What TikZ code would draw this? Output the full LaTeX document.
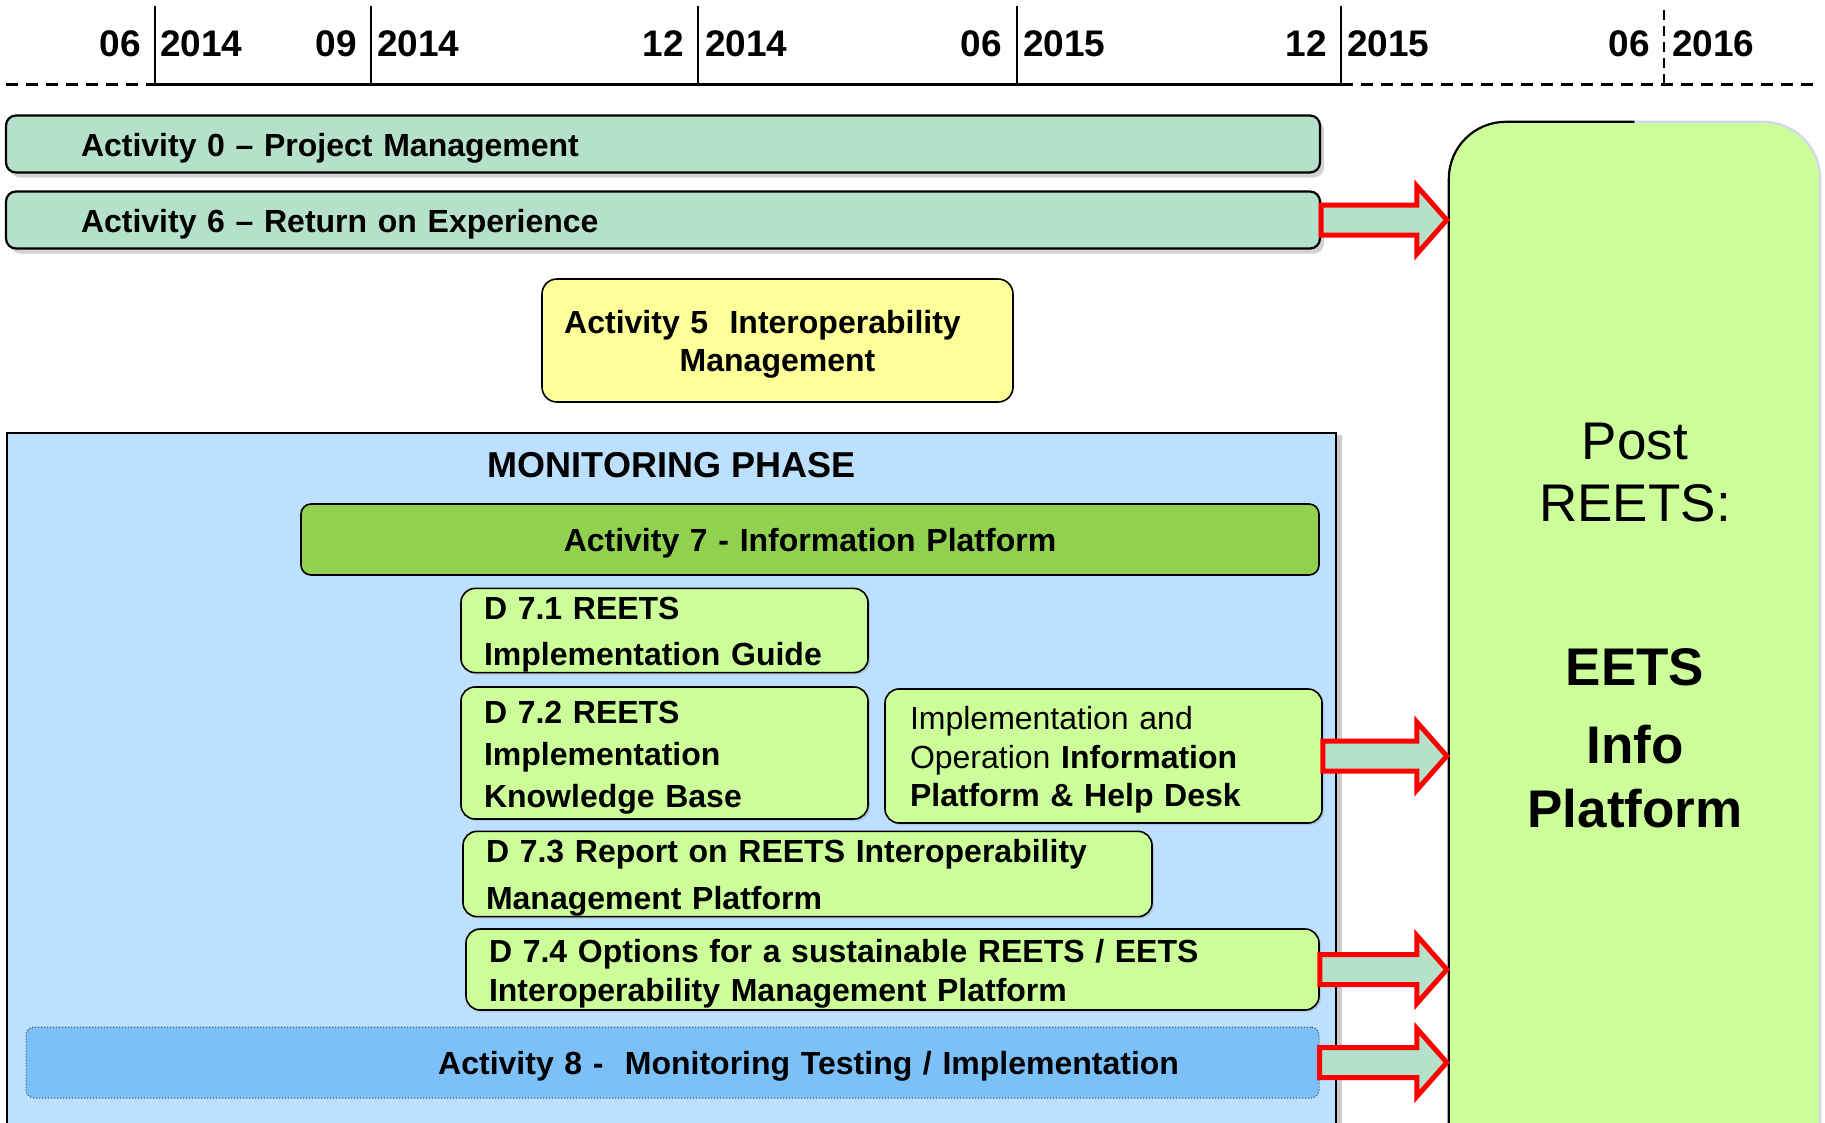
\documentclass[tikz,border=0pt]{standalone}
\usepackage{fontspec}
\setmainfont{Liberation Sans}
\usetikzlibrary{calc,positioning,shadows}
\definecolor{mint}{RGB}{181,224,202}
\definecolor{lemon}{RGB}{255,255,153}
\definecolor{skyfill}{RGB}{189,224,254}
\definecolor{leaf}{RGB}{146,208,80}
\definecolor{lime}{RGB}{204,255,153}
\definecolor{deepsky}{RGB}{124,192,250}
\definecolor{lav}{RGB}{210,214,240}
\def\fnt#1#2{\fontsize{#1}{#2}\selectfont}
\def\blockarrow#1#2{\draw[flow] let \p1=(#1), \p2=(#2) in
  (\x1,\y1+15pt) -- (\x2-32pt,\y1+15pt) -- (\x2-32pt,\y1+34pt) -- (\x2-2pt,\y1)
  -- (\x2-32pt,\y1-34pt) -- (\x2-32pt,\y1-15pt) -- (\x1,\y1-15pt) -- cycle;}

\begin{document}
\begin{tikzpicture}
    [x=1pt,y=-1pt,
    lower/.style={
      execute at begin node={\rule{0pt}{31.5pt}}
    },
    bar/.style={
      rectangle,
      draw=black,
      line width=2.2pt,
      fill=mint,
      rounded corners=10pt,
      text width=1164pt,
      inner xsep=75pt,
      align=left,
      minimum height=57pt,
      font=\fnt{32}{38}\bfseries,
      lower,
      drop shadow={opacity=0.35,shadow xshift=4pt,shadow yshift=-5pt}
    },
    yellowbox/.style={
      rectangle,
      draw=black,
      line width=1.6pt,
      fill=lemon,
      rounded corners=15pt,
      text width=431pt,
      inner xsep=20pt,
      align=center,
      minimum height=123pt,
      font=\fnt{32}{38}\bfseries,
      lower
    },
    phase/.style={
      rectangle,
      draw=black,
      line width=1.6pt,
      fill=skyfill,
      minimum width=1329pt,
      minimum height=697pt,
      drop shadow={opacity=0.4,shadow xshift=6pt,shadow yshift=-2pt}
    },
    greenbar/.style={
      rectangle,
      draw=black,
      line width=1.6pt,
      fill=leaf,
      rounded corners=10pt,
      text width=978pt,
      inner xsep=20pt,
      align=center,
      minimum height=71pt,
      font=\fnt{32}{38}\bfseries,
      lower
    },
    deliv/.style={
      rectangle,
      draw=black,
      line width=1.6pt,
      fill=lime,
      rounded corners=14pt,
      inner xsep=23pt,
      inner ysep=0pt,
      align=left,
      font=\fnt{32}{46}\bfseries,
      lower,
      drop shadow={opacity=0.25,shadow xshift=2pt,shadow yshift=-2pt}
    },
    testbar/.style={
      rectangle,
      draw=black!75,
      dotted,
      line width=1pt,
      fill=deepsky,
      rounded corners=8pt,
      text width=1013pt,
      inner xsep=140pt,
      align=right,
      minimum height=71pt,
      font=\fnt{32}{38}\bfseries,
      lower
    },
    postbox/.style={
      rectangle,
      fill=lime,
      rounded corners=57pt,
      minimum width=371pt,
      minimum height=1058pt
    },
    datelbl/.style={
      inner sep=0pt,
      font=\fnt{37}{44}\bfseries
    },
    flow/.style={
      draw=red,
      line width=5pt,
      fill=mint,
      line join=miter
    }
  ]
    \clip (0,0) rectangle (1825,1122);

    \draw[line width=3pt,dash pattern=on 12pt off 8pt] (6,84) -- (155,84);
    \draw[line width=3pt] (155,84) -- (1341,84);
    \draw[line width=3pt,dash pattern=on 12pt off 8pt] (1341,84) -- (1820,84);
    \draw[line width=2pt] (155,6) -- (155,84);
    \draw[line width=2pt] (371,6) -- (371,84);
    \draw[line width=2pt] (698,6) -- (698,84);
    \draw[line width=2pt] (1017,6) -- (1017,84);
    \draw[line width=2pt] (1341,6) -- (1341,84);
    \draw[line width=2pt,dash pattern=on 10pt off 6pt] (1664,10) -- (1664,84);
    \path (141,56) node[datelbl,anchor=base east] (m1) {06}
          (160,56) node[datelbl,anchor=base west] (y1) {2014}
          (357,56) node[datelbl,anchor=base east] (m2) {09}
          (377,56) node[datelbl,anchor=base west] (y2) {2014}
          (684,56) node[datelbl,anchor=base east] (m3) {12}
          (705,56) node[datelbl,anchor=base west] (y3) {2014}
          (1002,56) node[datelbl,anchor=base east] (m4) {06}
          (1023,56) node[datelbl,anchor=base west] (y4) {2015}
          (1327,56) node[datelbl,anchor=base east] (m5) {12}
          (1347,56) node[datelbl,anchor=base west] (y5) {2015}
          (1650,56) node[datelbl,anchor=base east] (m6) {06}
          (1672,56) node[datelbl,anchor=base west] (y6) {2016};

    \draw (1634.5,651) node[postbox] (post) {};
    \draw[line width=2.2pt,rounded corners=57pt] (post.south west) |- (post.north);
    \draw[line width=2.2pt,draw=lav,rounded corners=57pt] (post.north) -| (post.south east);
    \draw (1635,473) node[align=center,font=\fnt{53}{62}] (postname) {Post\\REETS:};
    \draw (1635,738) node[align=center,font=\fnt{53}{64}\bfseries] (eets) {EETS\\[14pt]Info\\Platform};

    \draw (663,144) node[bar] (act0) {Activity 0 -- Project Management};
    \draw (663,220) node[bar] (act6) {Activity 6 -- Return on Experience};
    \draw (777.5,340.5) node[yellowbox] (act5) {Activity 5\ \ Interoperability\kern30pt\null\\Management};

    \draw (671.5,781.5) node[phase] (mon) {};
    \node[below=20pt of mon.north,inner sep=0pt,font=\fnt{36}{42}\bfseries] (montitle) {MONITORING PHASE};
    \draw (810,539.5) node[greenbar] (act7) {Activity 7 - Information Platform};
    \path (664.5,630.5) node[deliv,text width=361pt,minimum height=83pt] (d71)
            {D 7.1 REETS\\Implementation Guide}
          (664.5,753) node[deliv,text width=361pt,minimum height=132pt,font=\fnt{32}{42}\bfseries] (d72)
            {D 7.2 REETS\\Implementation\\Knowledge Base}
          (1103.5,756) node[deliv,text width=387pt,inner xsep=25pt,minimum height=134pt,font=\fnt{32}{38.5}] (info)
            {Implementation and\\Operation \textbf{Information}\\\textbf{Platform \& Help Desk}}
          (807.5,874) node[deliv,text width=643pt,minimum height=82pt,font=\fnt{32}{47}\bfseries] (d73)
            {D 7.3 Report on REETS Interoperability\\Management Platform}
          (892.5,969.5) node[deliv,text width=807pt,minimum height=81pt,font=\fnt{32}{39}\bfseries] (d74)
            {D 7.4 Options for a sustainable REETS / EETS\\Interoperability Management Platform};
    \draw (672.5,1062.5) node[testbar] (act8) {Activity 8 -\ \ Monitoring Testing / Implementation};

    \blockarrow{act6.east}{post.west}
    \blockarrow{info.east}{post.west}
    \blockarrow{d74.east}{post.west}
    \blockarrow{act8.east}{post.west}
\end{tikzpicture}
\end{document}
